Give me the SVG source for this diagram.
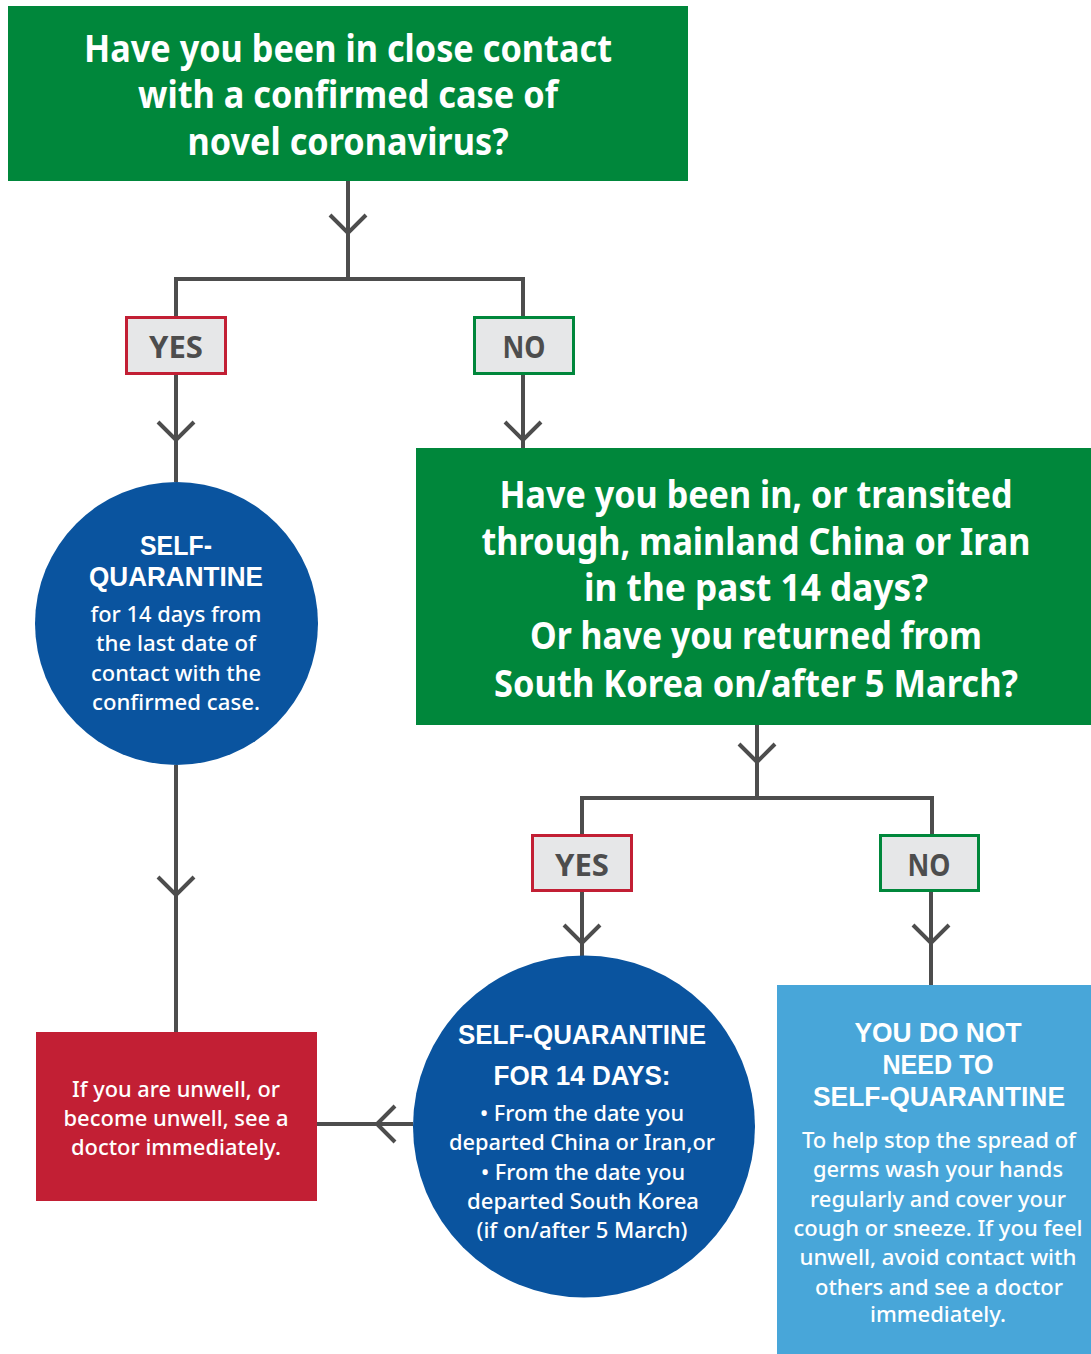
<svg xmlns="http://www.w3.org/2000/svg" width="1091" height="1354" viewBox="0 0 1091 1354">
<style>
.ln{fill:none;stroke:#4d4d4d;stroke-width:4;stroke-linejoin:miter}
.q{font-family:"Noto Sans","Open Sans","Liberation Sans",sans-serif;font-weight:700;fill:#fff;text-anchor:middle;font-size:37px}
.lbl{font-family:"Noto Sans","Open Sans","Liberation Sans",sans-serif;font-weight:700;fill:#4d4d4d;text-anchor:middle;font-size:31px}
.h{font-family:"Liberation Sans",Arial,sans-serif;font-weight:700;fill:#fff;text-anchor:middle;font-size:27px}
.b{font-family:"Noto Sans","Open Sans","Liberation Sans",sans-serif;font-weight:500;fill:#fff;text-anchor:middle;font-size:22px}
.yes{fill:#e6e7e8;stroke:#c21f34;stroke-width:3}
.no{fill:#e6e7e8;stroke:#00873b;stroke-width:3}
</style>
<rect width="1091" height="1354" fill="#fff"/>
<g id="connectors">
<path class="ln" d="M348 181V279M176 279H523M176 277V317M523 277V317"/>
<path class="ln" d="M330 215L348 233L366 215"/>
<path class="ln" d="M176 374V482M158 422L176 440L194 422"/>
<path class="ln" d="M523 374V448M505 422L523 440L541 422"/>
<path class="ln" d="M176 765V1032M158 877L176 895L194 877"/>
<path class="ln" d="M757 725V798M582 798H932M582 796V834M932 796V834M739 744L757 762L775 744"/>
<path class="ln" d="M582 891V956M564 925L582 943L600 925"/>
<path class="ln" d="M931 891V985M913 925L931 943L949 925"/>
<path class="ln" d="M413 1124H317M395 1106L377 1124L395 1142"/>
</g>
<g id="q1">
<rect x="8" y="6" width="680" height="175" fill="#00873b"/>
<text class="q" x="348" y="62" textLength="528" lengthAdjust="spacingAndGlyphs">Have you been in close contact</text>
<text class="q" x="348" y="108" textLength="420" lengthAdjust="spacingAndGlyphs">with a confirmed case of</text>
<text class="q" x="348" y="155" textLength="321" lengthAdjust="spacingAndGlyphs">novel coronavirus?</text>
</g>
<g id="yes1">
<rect class="yes" x="126.5" y="317.5" width="99" height="56"/>
<text class="lbl" x="176" y="358" textLength="54" lengthAdjust="spacingAndGlyphs">YES</text>
</g>
<g id="no1">
<rect class="no" x="474.5" y="317.5" width="99" height="56"/>
<text class="lbl" x="524" y="358" textLength="43" lengthAdjust="spacingAndGlyphs">NO</text>
</g>
<g id="sq1">
<circle cx="176.5" cy="623.5" r="141.5" fill="#0a549f"/>
<text class="h" x="176" y="555" textLength="72" lengthAdjust="spacingAndGlyphs">SELF-</text>
<text class="h" x="176" y="586" textLength="174" lengthAdjust="spacingAndGlyphs">QUARANTINE</text>
<text class="b" x="176" y="622" textLength="171" lengthAdjust="spacingAndGlyphs">for 14 days from</text>
<text class="b" x="176" y="651" textLength="160" lengthAdjust="spacingAndGlyphs">the last date of</text>
<text class="b" x="176" y="681" textLength="170" lengthAdjust="spacingAndGlyphs">contact with the</text>
<text class="b" x="176" y="710" textLength="168" lengthAdjust="spacingAndGlyphs">confirmed case.</text>
</g>
<g id="q2">
<rect x="416" y="448" width="675" height="277" fill="#00873b"/>
<text class="q" x="756" y="508" textLength="513" lengthAdjust="spacingAndGlyphs">Have you been in, or transited</text>
<text class="q" x="756" y="555" textLength="549" lengthAdjust="spacingAndGlyphs">through, mainland China or Iran</text>
<text class="q" x="756" y="601" textLength="344" lengthAdjust="spacingAndGlyphs">in the past 14 days?</text>
<text class="q" x="756" y="649" textLength="452" lengthAdjust="spacingAndGlyphs">Or have you returned from</text>
<text class="q" x="756" y="697" textLength="524" lengthAdjust="spacingAndGlyphs">South Korea on/after 5 March?</text>
</g>
<g id="yes2">
<rect class="yes" x="532.5" y="835.5" width="99" height="55"/>
<text class="lbl" x="582" y="876" textLength="54" lengthAdjust="spacingAndGlyphs">YES</text>
</g>
<g id="no2">
<rect class="no" x="880.5" y="835.5" width="98" height="55"/>
<text class="lbl" x="929" y="876" textLength="43" lengthAdjust="spacingAndGlyphs">NO</text>
</g>
<g id="sq2">
<circle cx="584" cy="1126.5" r="171" fill="#0a549f"/>
<text class="h" x="582" y="1044" textLength="248" lengthAdjust="spacingAndGlyphs">SELF-QUARANTINE</text>
<text class="h" x="582" y="1085" textLength="177" lengthAdjust="spacingAndGlyphs">FOR 14 DAYS:</text>
<text class="b" x="582" y="1121" textLength="204" lengthAdjust="spacingAndGlyphs">• From the date you</text>
<text class="b" x="582" y="1150" textLength="266" lengthAdjust="spacingAndGlyphs">departed China or Iran,or</text>
<text class="b" x="583" y="1180" textLength="204" lengthAdjust="spacingAndGlyphs">• From the date you</text>
<text class="b" x="583" y="1209" textLength="232" lengthAdjust="spacingAndGlyphs">departed South Korea</text>
<text class="b" x="582" y="1238" textLength="211" lengthAdjust="spacingAndGlyphs">(if on/after 5 March)</text>
</g>
<g id="doctor">
<rect x="36" y="1032" width="281" height="169" fill="#c21f34"/>
<text class="b" x="176" y="1097" textLength="208" lengthAdjust="spacingAndGlyphs">If you are unwell, or</text>
<text class="b" x="176" y="1126" textLength="225" lengthAdjust="spacingAndGlyphs">become unwell, see a</text>
<text class="b" x="176" y="1155" textLength="210" lengthAdjust="spacingAndGlyphs">doctor immediately.</text>
</g>
<g id="noneed">
<rect x="777" y="985" width="314" height="369" fill="#48a6d9"/>
<text class="h" x="938" y="1042" textLength="167" lengthAdjust="spacingAndGlyphs">YOU DO NOT</text>
<text class="h" x="938" y="1074" textLength="111" lengthAdjust="spacingAndGlyphs">NEED TO</text>
<text class="h" x="939" y="1106" textLength="252" lengthAdjust="spacingAndGlyphs">SELF-QUARANTINE</text>
<text class="b" x="939" y="1148" textLength="274" lengthAdjust="spacingAndGlyphs">To help stop the spread of</text>
<text class="b" x="938" y="1177" textLength="250" lengthAdjust="spacingAndGlyphs">germs wash your hands</text>
<text class="b" x="938" y="1207" textLength="256" lengthAdjust="spacingAndGlyphs">regularly and cover your</text>
<text class="b" x="938" y="1236" textLength="289" lengthAdjust="spacingAndGlyphs">cough or sneeze. If you feel</text>
<text class="b" x="938" y="1265" textLength="277" lengthAdjust="spacingAndGlyphs">unwell, avoid contact with</text>
<text class="b" x="939" y="1295" textLength="248" lengthAdjust="spacingAndGlyphs">others and see a doctor</text>
<text class="b" x="938" y="1322" textLength="136" lengthAdjust="spacingAndGlyphs">immediately.</text>
</g>
</svg>
